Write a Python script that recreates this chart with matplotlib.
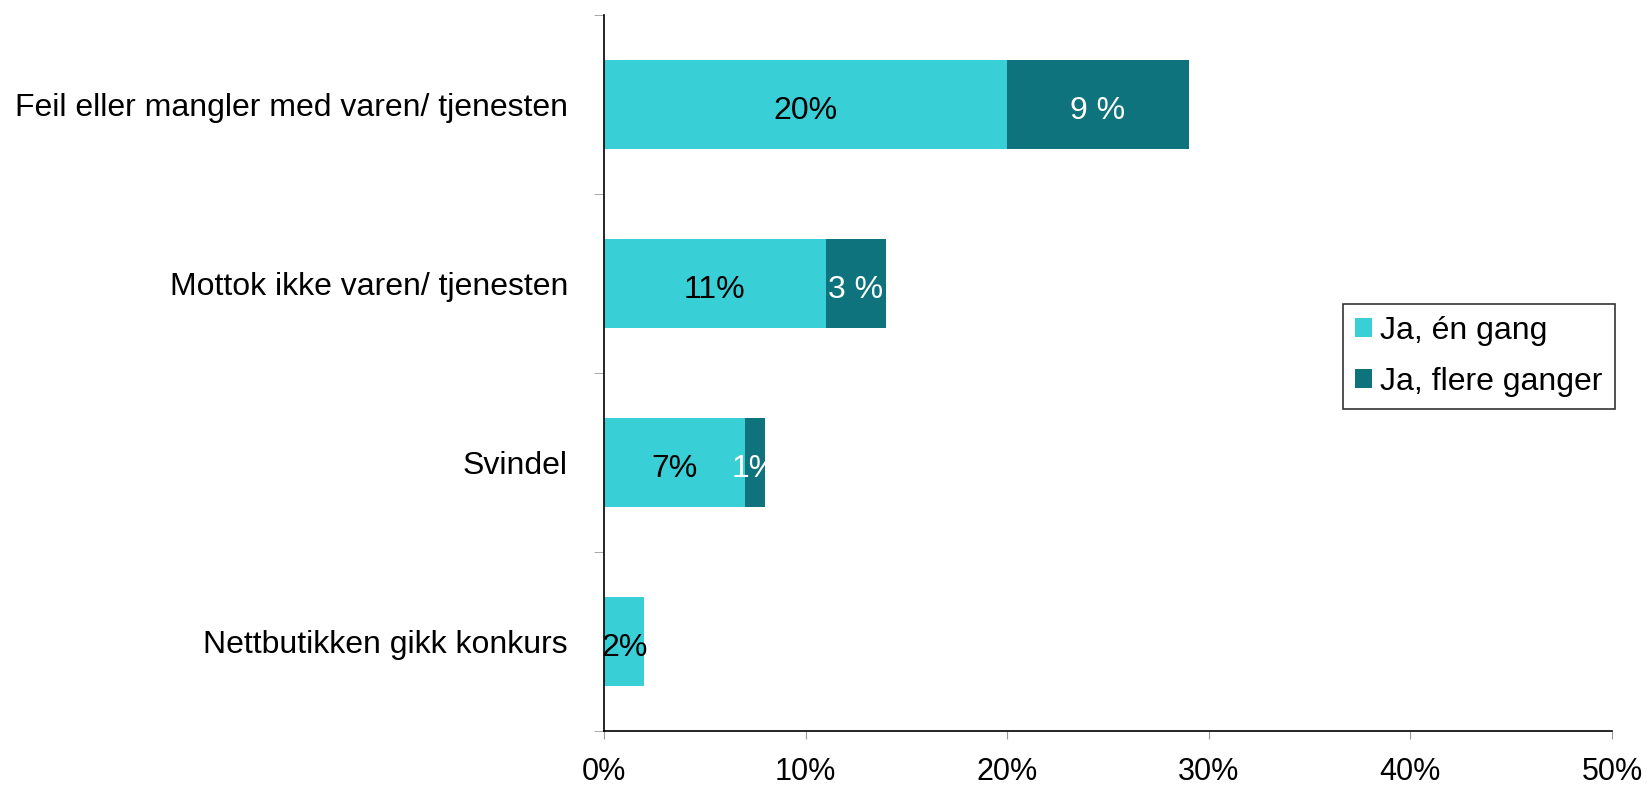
import matplotlib
matplotlib.use("Agg")
import matplotlib.pyplot as plt
from matplotlib.ticker import FixedLocator, FuncFormatter
import numpy as np

plt.rcParams['font.family'] = ['Liberation Sans', 'DejaVu Sans']

categories = ["Feil eller mangler med varen/ tjenesten",
              "Mottok ikke varen/ tjenesten",
              "Svindel",
              "Nettbutikken gikk konkurs"]
once = [20, 11, 7, 2]
several = [9, 3, 1, 0]
once_labels = ["20%", "11%", "7%", "2%"]
several_labels = ["9 %", "3 %", "1%", ""]
series_names = ["Ja, én gang", "Ja, flere ganger"]
xticks = [0, 10, 20, 30, 40, 50]

c_light = "#38CFD6"
c_dark = "#0E737C"
fs = 23

fig = plt.figure(figsize=(16.47, 7.85), dpi=100)
ax = fig.add_axes([604/1647, 1-731/785, (1612-604)/1647, (731-15)/785])

y = np.arange(len(categories))
ax.barh(y, once, height=0.5, color=c_light, label=series_names[0])
ax.barh(y, several, left=once, height=0.5, color=c_dark, label=series_names[1])

for i in range(len(categories)):
    ax.text(once[i]/2, y[i] + 0.015, once_labels[i], ha='center', va='center_baseline', fontsize=fs, color='black')
    if several[i] > 0:
        ax.text(once[i] + several[i]/2, y[i] + 0.015, several_labels[i], ha='center', va='center_baseline', fontsize=fs, color='white')

ax.set_xlim(0, 50)
ax.set_ylim(len(categories)-0.5, -0.5)
ax.set_xticks(xticks)
ax.xaxis.set_major_formatter(FuncFormatter(lambda v, p: f"{int(v)}%"))
ax.tick_params(axis='x', labelsize=22, length=6, color='#999999', pad=13)

ax.set_yticks(y)
ax.set_yticklabels(categories, fontsize=fs)
ax.tick_params(axis='y', which='major', length=0, pad=26)
ax.yaxis.set_minor_locator(FixedLocator(np.arange(-0.5, len(categories), 1.0)))
ax.tick_params(axis='y', which='minor', length=7, color='#999999')

for s in ['top', 'right']:
    ax.spines[s].set_visible(False)
ax.spines['left'].set_color('black')
ax.spines['bottom'].set_color('black')
ax.spines['left'].set_linewidth(1.2)
ax.spines['bottom'].set_linewidth(1.2)

leg = fig.legend(loc='upper left', bbox_to_anchor=(1343/1647, 1-304/785),
                 borderaxespad=0,
                 fontsize=fs, frameon=True, fancybox=False, edgecolor='black',
                 handlelength=0.53, handleheight=0.53, handletextpad=0.25,
                 labelspacing=0.66, borderpad=0.38)
leg.get_frame().set_linewidth(1.2)

fig.savefig("out.png", dpi=100)
